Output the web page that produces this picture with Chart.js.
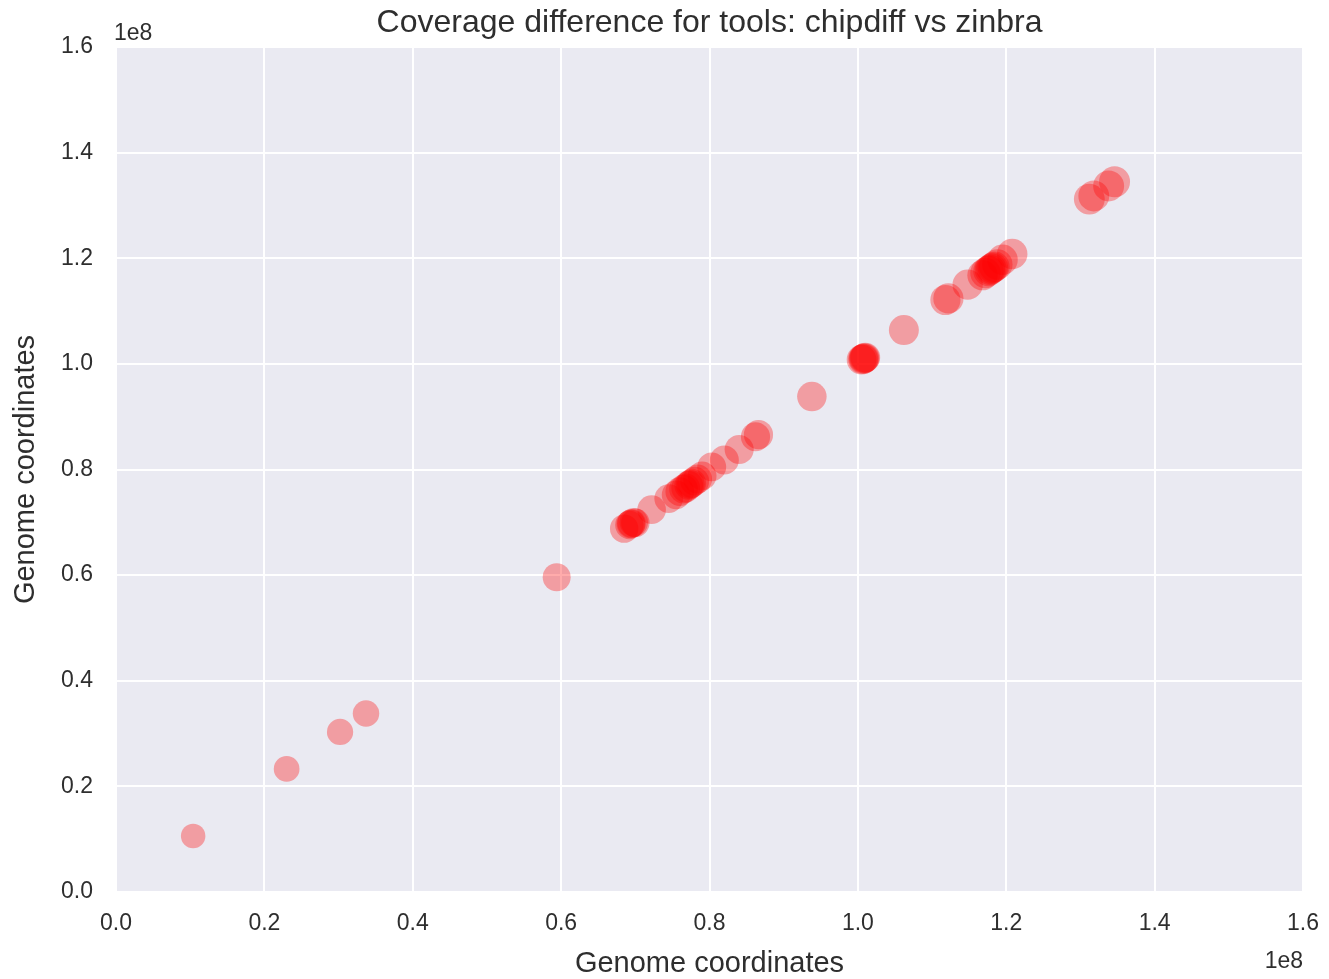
<!DOCTYPE html>
<html>
<head>
<meta charset="utf-8">
<script src="https://cdn.jsdelivr.net/npm/chart.js@4"></script>
<style>
  html, body { margin: 0; padding: 0; background: #fff; }
  #wrap { width: 1329px; height: 979px; }
</style>
</head>
<body>
<div id="wrap"><canvas id="scatterChart" width="1329" height="979"></canvas></div>
<script>
// genome coordinates (bp), chipdiff on x, zinbra on y
var chipdiffPos = [
  10400000, 23000000, 30200000, 33700000, 59400000,
  68500000, 69200000, 69400000, 69500000, 69800000, 70000000,
  72200000, 74500000, 75500000, 76000000, 76500000, 76800000,
  77200000, 77400000, 77600000, 78000000, 78400000, 79000000,
  80300000, 82000000, 84000000, 86200000, 86600000,
  93800000, 100500000, 100700000, 100800000, 100900000, 101000000, 106200000,
  111800000, 112200000, 114800000, 116800000, 117200000,
  117600000, 117800000, 118000000, 118200000, 118400000, 118800000, 119500000,
  120800000, 131200000, 131800000, 133800000, 134600000
];
var zinbraPos = [
  10600000, 23300000, 30300000, 33800000, 59600000,
  68800000, 69500000, 69700000, 69800000, 70000000, 69900000,
  72400000, 74500000, 75200000, 75800000, 76300000, 76500000,
  77000000, 77200000, 77400000, 77800000, 78200000, 78800000,
  80500000, 81800000, 83800000, 86200000, 86600000,
  93800000, 100800000, 100900000, 101000000, 101100000, 101200000, 106400000,
  112100000, 112400000, 115000000, 116800000, 117200000,
  117600000, 117800000, 118000000, 118200000, 118400000, 118800000, 119700000,
  120800000, 131200000, 131800000, 133700000, 134500000
];
var axisTicks = [0, 0.2e8, 0.4e8, 0.6e8, 0.8e8, 1.0e8, 1.2e8, 1.4e8, 1.6e8];

var points = chipdiffPos.map(function (x, i) { return { x: x, y: zinbraPos[i] }; });

var FONT = "'Liberation Sans', Arial, sans-serif";
var TXT = '#2e2e2e';

// grey plot background + the "1e8" offset labels
var seabornBits = {
  id: 'seabornBits',
  beforeDraw: function (chart) {
    var a = chart.chartArea, c = chart.ctx;
    c.save();
    c.fillStyle = '#eaeaf2';
    c.fillRect(a.left, a.top, a.right - a.left, a.bottom - a.top);
    c.restore();
  },
  afterDraw: function (chart) {
    var a = chart.chartArea, c = chart.ctx;
    c.save();
    c.fillStyle = TXT;
    c.font = '23px ' + FONT;
    c.textBaseline = 'alphabetic';
    c.textAlign = 'left';
    c.fillText('1e8', a.left - 2, 40);
    c.textAlign = 'right';
    c.fillText('1e8', a.right, 968);
    c.restore();
  }
};

var ctx = document.getElementById('scatterChart').getContext('2d');
var myScatter = new Chart(ctx, {
  type: 'scatter',
  data: {
    datasets: [{
      label: 'chipdiff vs zinbra',
      data: points,
      backgroundColor: 'rgba(255, 0, 0, 0.33)',
      borderWidth: 0,
      pointRadius: function (c) {
        var v = c.raw ? c.raw.x / 1e8 : 0;
        return 11 + 4.5 * Math.sqrt(v / 1.35);
      },
      pointHoverRadius: 15
    }]
  },
  options: {
    responsive: false,
    animation: false,
    layout: { padding: { right: 26 } },
    plugins: {
      legend: { display: false },
      tooltip: { enabled: false },
      title: {
        display: true,
        text: 'Coverage difference for tools: chipdiff vs zinbra',
        fullSize: false,
        color: TXT,
        font: { family: FONT, size: 32, weight: 'normal' },
        padding: { top: 4, bottom: 4.6 }
      }
    },
    scales: {
      x: {
        type: 'linear',
        min: 0,
        max: 1.6e8,
        afterBuildTicks: function (s) { s.ticks = axisTicks.map(function (v) { return { value: v }; }); },
        afterFit: function (s) { s.height = 87; s.paddingRight = 0; s.paddingLeft = 0; },
        ticks: {
          color: TXT,
          font: { family: FONT, size: 23 },
          padding: 18,
          maxRotation: 0,
          callback: function (v) { return (v / 1e8).toFixed(1); }
        },
        grid: { color: '#ffffff', lineWidth: 2, drawTicks: false },
        border: { display: false },
        title: {
          display: true,
          text: 'Genome coordinates',
          color: TXT,
          font: { family: FONT, size: 29 },
          padding: { top: 0, bottom: -2 }
        }
      },
      y: {
        type: 'linear',
        min: 0,
        max: 1.6e8,
        afterBuildTicks: function (s) { s.ticks = axisTicks.map(function (v) { return { value: v }; }); },
        afterFit: function (s) { s.width = 116; },
        ticks: {
          color: TXT,
          font: { family: FONT, size: 23 },
          padding: 23,
          callback: function (v) { return (v / 1e8).toFixed(1); }
        },
        grid: { color: '#ffffff', lineWidth: 2, drawTicks: false },
        border: { display: false },
        title: {
          display: true,
          text: 'Genome coordinates',
          color: TXT,
          font: { family: FONT, size: 29 },
          padding: { top: 9, bottom: 0 }
        }
      }
    }
  },
  plugins: [seabornBits]
});
</script>
</body>
</html>
